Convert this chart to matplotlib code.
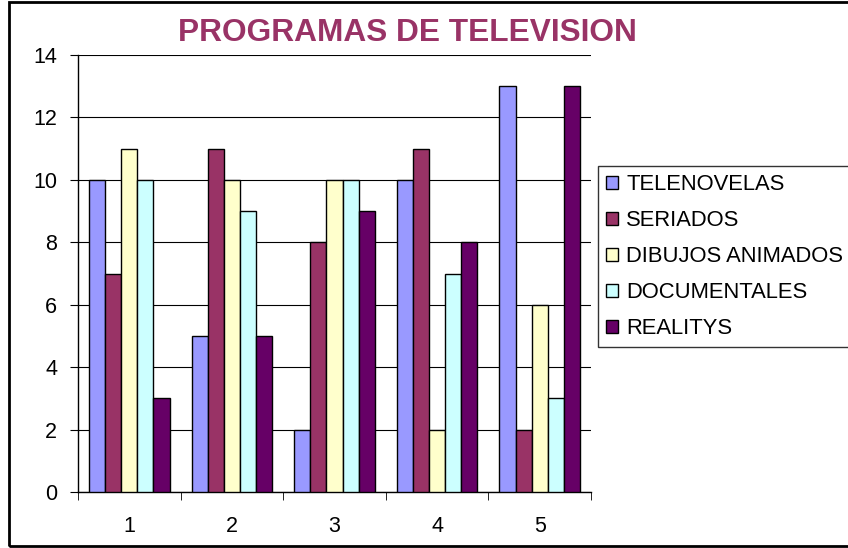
import matplotlib
matplotlib.use("Agg")
import matplotlib.pyplot as plt
from matplotlib.patches import Rectangle, Patch
import numpy as np

categories = ["1", "2", "3", "4", "5"]
series_names = ["TELENOVELAS", "SERIADOS", "DIBUJOS ANIMADOS", "DOCUMENTALES", "REALITYS"]
telenovelas = [10, 5, 2, 10, 13]
seriados = [7, 11, 8, 11, 2]
dibujos = [11, 10, 10, 2, 6]
documentales = [10, 9, 10, 7, 3]
realitys = [3, 5, 9, 8, 13]
colors = ["#9999FF", "#993366", "#FFFFCC", "#CCFFFF", "#660066"]
y_ticks = [0, 2, 4, 6, 8, 10, 12, 14]

plt.rcParams['font.family'] = ['Liberation Sans', 'DejaVu Sans']

W, H = 848, 548
fig = plt.figure(figsize=(W / 100, H / 100), dpi=100)

# outer frame
fig.patches.append(Rectangle((9 / W, 1 - 546 / H), 900 / W, 544 / H,
                             transform=fig.transFigure, fill=False,
                             edgecolor="black", linewidth=2))

ax = fig.add_axes([78 / W, 1 - 492 / H, (591 - 78) / W, (492 - 55) / H])

data = [telenovelas, seriados, dibujos, documentales, realitys]
n = len(data)
x = np.arange(1, len(categories) + 1)
bw = 0.157
for i, (vals, c) in enumerate(zip(data, colors)):
    ax.bar(x + (i - (n - 1) / 2) * bw, vals, width=bw, color=c,
           edgecolor="black", linewidth=1.0, zorder=3)

ax.set_xlim(0.5, 5.5)
ax.set_ylim(0, 14)
ax.set_yticks(y_ticks)
ax.set_yticklabels([str(v) for v in y_ticks], fontsize=15.5)
ax.set_xticks(x)
ax.set_xticklabels(categories, fontsize=15.5)
ax.tick_params(axis="x", length=0, pad=17)
ax.set_xticks(np.arange(0.5, 5.6, 1.0), minor=True)
ax.tick_params(axis="x", which="minor", length=6, direction="out", color="black")
ax.tick_params(axis="y", length=6, direction="out", pad=9)
ax.yaxis.grid(True, color="black", linewidth=0.8, zorder=0)
for s in ["top", "right"]:
    ax.spines[s].set_visible(False)
ax.spines["left"].set_linewidth(1.0)
ax.spines["bottom"].set_linewidth(1.0)

fig.text(407 / W, 1 - 33 / H, "PROGRAMAS DE TELEVISION", ha="center", va="center",
         fontsize=22.8, fontweight="bold", color="#993366")

handles = [Patch(facecolor=c, edgecolor="black", linewidth=1.0) for c in colors]
leg = fig.legend(handles, series_names, loc="upper left",
                 bbox_to_anchor=(598 / W, 1 - 166 / H), fontsize=15.8,
                 frameon=True, fancybox=False, edgecolor="black",
                 handlelength=0.55, handleheight=0.55, handletextpad=0.35,
                 labelspacing=0.68, borderpad=0.38, borderaxespad=0)
leg.get_frame().set_linewidth(1.0)

fig.savefig("out.png", dpi=100)
